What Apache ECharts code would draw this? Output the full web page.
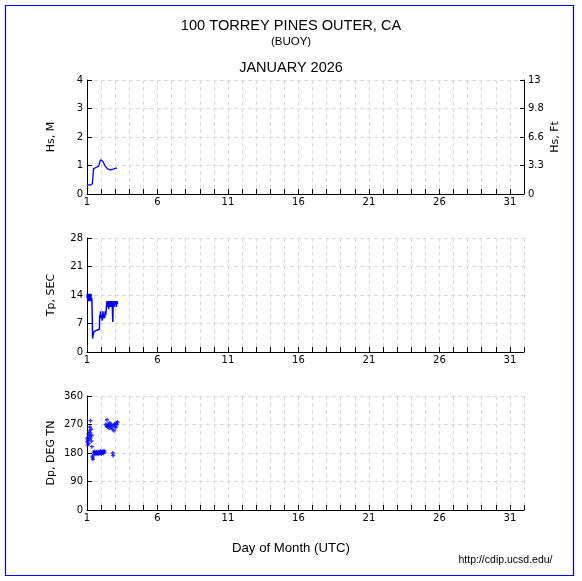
<!DOCTYPE html>
<html>
<head>
<meta charset="utf-8">
<script src="https://cdn.jsdelivr.net/npm/echarts@6/dist/echarts.min.js"></script>
<style>html,body{margin:0;padding:0;background:#fff;}#c{width:582px;height:581px;}</style>
</head>
<body>
<div id="c"></div>
<script>
// ---- data ----
const dayTicks = ['1','6','11','16','21','26','31'];
const hsFtLabels = ['0','3.3','6.6','9.8','13'];

const hsDays = [1.02,1.04,1.08,1.13,1.17,1.21,1.25,1.29,1.33,1.38,1.42,1.46,1.50,1.54,1.58,1.63,1.67,1.71,1.75,1.79,1.83,1.88,1.92,1.96,2.00,2.04,2.08,2.13,2.17,2.21,2.25,2.29,2.33,2.38,2.42,2.46,2.50,2.54,2.58,2.63,2.67,2.71,2.75,2.79,2.83,2.88,2.92,2.96,3.00,3.04,3.08,3.13,3.17];
const hsValues = [0.32,0.30,0.28,0.30,0.29,0.31,0.30,0.33,0.32,0.36,0.60,0.88,0.93,0.90,0.95,0.93,0.96,0.94,0.97,0.96,0.98,1.08,1.12,1.20,1.16,1.26,1.18,1.14,1.10,1.06,1.02,0.98,0.94,0.96,0.91,0.88,0.86,0.86,0.84,0.85,0.87,0.85,0.88,0.86,0.84,0.87,0.89,0.88,0.90,0.92,0.89,0.91,0.92];

const tpDays = [1.00,1.02,1.04,1.06,1.08,1.10,1.13,1.15,1.17,1.19,1.21,1.23,1.25,1.27,1.29,1.31,1.33,1.35,1.38,1.40,1.42,1.46,1.50,1.54,1.58,1.63,1.67,1.71,1.75,1.79,1.83,1.88,1.90,1.92,1.96,2.00,2.04,2.08,2.13,2.17,2.21,2.25,2.29,2.33,2.38,2.42,2.46,2.50,2.54,2.58,2.63,2.67,2.71,2.75,2.79,2.83,2.85,2.88,2.92,2.96,3.00,3.04,3.08,3.13,3.17];
const tpValues = [13.3,14.3,13.3,14.3,12.5,14.3,13.3,14.3,12.5,13.3,14.3,13.3,12.5,14.3,13.3,12.5,13.3,12.5,12.5,3.3,4.0,4.5,5.0,5.0,5.3,5.0,5.3,5.3,5.3,5.6,5.6,5.6,9.1,8.3,10.0,8.3,9.1,7.7,10.0,8.3,9.1,8.3,10.0,9.1,11.1,12.5,11.1,12.5,10.5,12.5,11.1,12.5,11.1,12.5,11.8,7.4,11.1,12.5,11.1,12.5,11.8,12.5,11.1,12.5,11.8];

const dpDays = [1.00,1.02,1.04,1.06,1.08,1.10,1.12,1.15,1.17,1.19,1.21,1.23,1.25,1.27,1.29,1.31,1.33,1.35,1.38,1.40,1.42,1.46,1.50,1.54,1.58,1.62,1.67,1.71,1.75,1.79,1.83,1.88,1.92,1.96,2.00,2.04,2.08,2.12,2.17,2.21,2.25,2.33,2.38,2.42,2.46,2.50,2.54,2.58,2.62,2.67,2.71,2.75,2.79,2.83,2.85,2.88,2.92,2.96,3.00,3.04,3.08,3.12,3.17];
const dpValues = [215,225,205,230,220,240,210,225,250,235,262,245,282,228,255,218,236,200,170,165,160,182,175,185,180,178,183,176,180,185,178,182,180,186,177,183,180,185,179,187,183,270,265,285,262,272,268,258,275,266,270,262,255,180,172,268,250,272,265,260,275,270,278];

const hsData = hsDays.map((d, i) => [d, hsValues[i]]);
const tpData = tpDays.map((d, i) => [d, tpValues[i]]);
const dpData = dpDays.map((d, i) => [d, dpValues[i]]);

// ---- chart ----
const FONT = 'DejaVu Sans';
const labelStyle = {color: '#000', fontFamily: FONT, fontSize: 10};
const splitStyle = {show: true, lineStyle: {color: '#d8d8d8', type: [4, 3], width: 1}};
const grids = [
  {left: 87, width: 437, top: 80, height: 114},
  {left: 87, width: 437, top: 238, height: 114},
  {left: 87, width: 437, top: 396, height: 114}
];
function xAxis(i) {
  return {
    type: 'value', gridIndex: i, min: 1, max: 32, interval: 1,
    axisLine: {show: true, onZero: false, lineStyle: {color: '#000', width: 1}},
    axisTick: {show: true, inside: true, length: 5, lineStyle: {color: '#000'}},
    axisLabel: Object.assign({margin: 3, formatter: v => dayTicks.indexOf(String(v)) >= 0 ? String(v) : '', showMaxLabel: true}, labelStyle),
    splitLine: splitStyle
  };
}
function yAxis(i, max, interval, name) {
  return {
    type: 'value', gridIndex: i, min: 0, max: max, interval: interval, position: 'left',
    name: name, nameLocation: 'middle', nameGap: 30, nameMoveOverlap: false,
    nameTextStyle: {color: '#000', fontFamily: FONT, fontSize: 11},
    axisLine: {show: true, lineStyle: {color: '#000', width: 1}},
    axisTick: {show: true, inside: true, length: 5, lineStyle: {color: '#000'}},
    axisLabel: Object.assign({margin: 4}, labelStyle),
    splitLine: splitStyle
  };
}
const chart = echarts.init(document.getElementById('c'), null, {renderer: 'canvas'});
chart.setOption({
  backgroundColor: '#fff',
  animation: false,
  grid: grids,
  xAxis: [xAxis(0), xAxis(1), xAxis(2)],
  yAxis: [
    yAxis(0, 4, 1, 'Hs, M'),
    yAxis(1, 28, 7, 'Tp, SEC'),
    yAxis(2, 360, 90, 'Dp, DEG TN'),
    {
      type: 'value', gridIndex: 0, min: 0, max: 4, interval: 1, position: 'right',
      name: 'Hs, Ft', nameLocation: 'middle', nameGap: 26, nameMoveOverlap: false,
      nameTextStyle: {color: '#000', fontFamily: FONT, fontSize: 11},
      axisLine: {show: true, lineStyle: {color: '#000', width: 1}},
      axisTick: {show: true, inside: true, length: 4, lineStyle: {color: '#000'}},
      axisLabel: Object.assign({margin: 4, formatter: v => hsFtLabels[v]}, labelStyle),
      splitLine: {show: false}
    }
  ],
  graphic: [
    {type: 'rect', shape: {x: 5.5, y: 5.5, width: 568, height: 570}, style: {fill: 'none', stroke: '#0000ff', lineWidth: 1.2}, silent: true},
    {type: 'text', x: 291, y: 25.5, style: {text: '100 TORREY PINES OUTER, CA', textAlign: 'center', textVerticalAlign: 'middle', fontFamily: 'Liberation Sans', fontSize: 14.6, fill: '#000'}},
    {type: 'text', x: 291, y: 41.5, style: {text: '(BUOY)', textAlign: 'center', textVerticalAlign: 'middle', fontFamily: 'Liberation Sans', fontSize: 11.5, fill: '#000'}},
    {type: 'text', x: 291, y: 68, style: {text: 'JANUARY 2026', textAlign: 'center', textVerticalAlign: 'middle', fontFamily: 'Liberation Sans', fontSize: 14.5, fill: '#000'}},
    {type: 'text', x: 291, y: 548, style: {text: 'Day of Month (UTC)', textAlign: 'center', textVerticalAlign: 'middle', fontFamily: 'Liberation Sans', fontSize: 13.2, fill: '#000'}},
    {type: 'text', x: 552.5, y: 560.5, style: {text: 'http://cdip.ucsd.edu/', textAlign: 'right', textVerticalAlign: 'middle', fontFamily: 'Liberation Sans', fontSize: 10.5, fill: '#000'}}
  ],
  series: [
    {type: 'line', xAxisIndex: 0, yAxisIndex: 0, data: hsData, showSymbol: false, lineStyle: {color: '#0000ff', width: 1.3}, itemStyle: {color: '#0000ff'}},
    {type: 'line', xAxisIndex: 1, yAxisIndex: 1, data: tpData, showSymbol: false, lineStyle: {color: '#0000ff', width: 1.5}, itemStyle: {color: '#0000ff'}},
    {type: 'scatter', xAxisIndex: 2, yAxisIndex: 2, data: dpData, symbol: 'path://M1,0H2V1H3V2H2V3H1V2H0V1H1Z', symbolSize: 4, itemStyle: {color: '#0000ff'}}
  ]
});
</script>
</body>
</html>
